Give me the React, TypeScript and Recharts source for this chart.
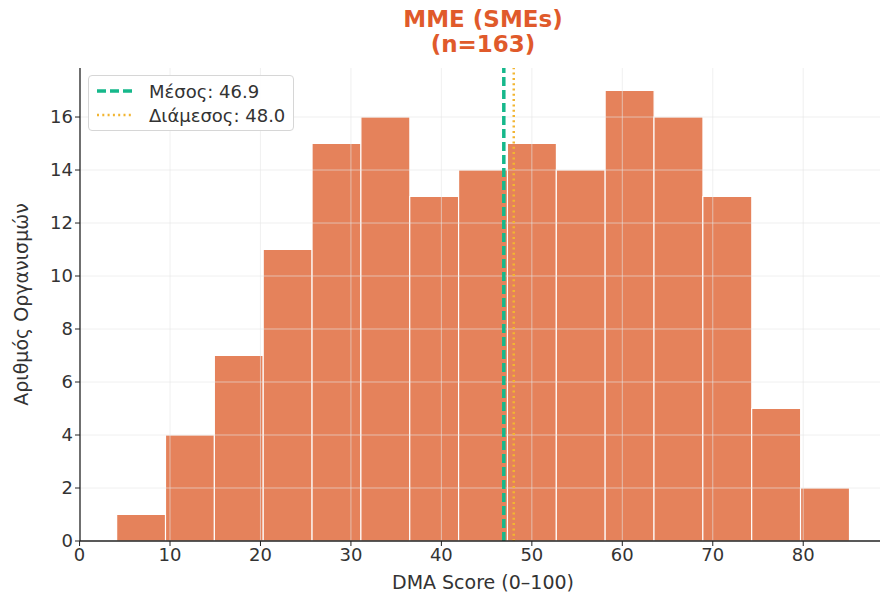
import {
  ComposedChart, Bar, XAxis, YAxis,
  ReferenceLine, Label,
} from 'recharts'

// ── Data ───────────────────────────────────────────────────────────────────

const BIN_LEFT = [4.1, 9.5, 14.9, 20.3, 25.7, 31.1, 36.5, 41.9, 47.3, 52.7, 58.1, 63.5, 68.9, 74.3, 79.7]
const BIN_WIDTH = 5.4
const COUNTS = [1, 4, 7, 11, 15, 16, 13, 14, 15, 14, 17, 16, 13, 5, 2]

const X_TICKS = [0, 10, 20, 30, 40, 50, 60, 70, 80]
const Y_TICKS = [0, 2, 4, 6, 8, 10, 12, 14, 16]

const MEAN = 46.9
const MEDIAN = 48.0

const TITLE = ['MME (SMEs)', '(n=163)']
const X_LABEL = 'DMA Score (0–100)'
const Y_LABEL = 'Αριθμός Οργανισμών'

const LEGEND_ITEMS = [
  { label: `Μέσος: ${MEAN.toFixed(1)}`, color: '#16b88b', dash: '9 4', width: 3.5 },
  { label: `Διάμεσος: ${MEDIAN.toFixed(1)}`, color: '#f2b531', dash: '2 3.3', width: 2.5 },
]

const rows = BIN_LEFT.map((left, i) => ({ x: left + BIN_WIDTH / 2, count: COUNTS[i] }))

const FONT = '"DejaVu Sans", sans-serif'
const BAR_COLOR = '#e5825b'
const TEXT = '#333333'
const GRID = '#e6e6e6'

function LegendBox() {
  return (
    <div style={{
      position: 'absolute', left: 88, top: 75,
      border: '1px solid #d6d6d6', borderRadius: 4, background: 'rgba(255,255,255,0.9)',
      padding: '3px 8px 3px 6px', fontFamily: FONT, fontSize: 18, color: TEXT,
    }}>
      {LEGEND_ITEMS.map(item => (
        <div key={item.label} style={{ display: 'flex', alignItems: 'center', height: 24 }}>
          <svg width={40} height={10} style={{ marginRight: 14 }}>
            <line x1={2} y1={5} x2={38} y2={5} stroke={item.color}
              strokeWidth={item.width} strokeDasharray={item.dash} />
          </svg>
          <span>{item.label}</span>
        </div>
      ))}
    </div>
  )
}

export default function App() {
  return (
    <div style={{ position: 'absolute', left: 0, top: 0, width: 880, height: 594, overflow: 'hidden', background: '#fff' }}>
      <div style={{
        position: 'absolute', left: 0, width: 966, top: 7, textAlign: 'center',
        fontFamily: FONT, fontWeight: 'bold', fontSize: 23, lineHeight: '25px', color: '#e05a2b',
      }}>
        {TITLE.map(t => <div key={t}>{t}</div>)}
      </div>
      <ComposedChart
        width={890} height={594} data={rows}
        margin={{ top: 68, right: 4, left: 10, bottom: 1 }}
        barCategoryGap={0} barGap={0}
        style={{ fontFamily: FONT }}
      >
        <XAxis
          type="number" dataKey="x" domain={[0.05, 89.15]} ticks={X_TICKS}
          allowDataOverflow height={52}
          tick={{ fontSize: 18, fill: TEXT }} tickSize={5}
          axisLine={{ stroke: '#222', strokeWidth: 1.3 }} tickLine={{ stroke: '#222' }}
        >
          <Label value={X_LABEL} position="insideBottom" offset={4} style={{ fontSize: 19, fill: TEXT }} />
        </XAxis>
        <YAxis
          type="number" domain={[0, 17.85]} ticks={Y_TICKS} allowDataOverflow width={70}
          tick={{ fontSize: 18, fill: TEXT }} tickSize={5}
          axisLine={{ stroke: '#222', strokeWidth: 1.3 }} tickLine={{ stroke: '#222' }}
        >
          <Label value={Y_LABEL} angle={-90} position="insideLeft" offset={11}
            style={{ fontSize: 19, fill: TEXT, textAnchor: 'middle' }} />
        </YAxis>
        <Bar dataKey="count" fill={BAR_COLOR} stroke="#ffffff" strokeWidth={1.2} isAnimationActive={false} />
        {Y_TICKS.slice(1).map(v => (
          <ReferenceLine key={`y${v}`} y={v} stroke={GRID} strokeOpacity={0.6} strokeWidth={1} />
        ))}
        {X_TICKS.slice(1).map(v => (
          <ReferenceLine key={`x${v}`} x={v} stroke={GRID} strokeOpacity={0.6} strokeWidth={1} />
        ))}
        <ReferenceLine x={MEAN} stroke={LEGEND_ITEMS[0].color} strokeWidth={3.5} strokeDasharray="9 4" />
        <ReferenceLine x={MEDIAN} stroke={LEGEND_ITEMS[1].color} strokeWidth={2.5} strokeDasharray="2 3.3" />
      </ComposedChart>
      <LegendBox />
    </div>
  )
}
